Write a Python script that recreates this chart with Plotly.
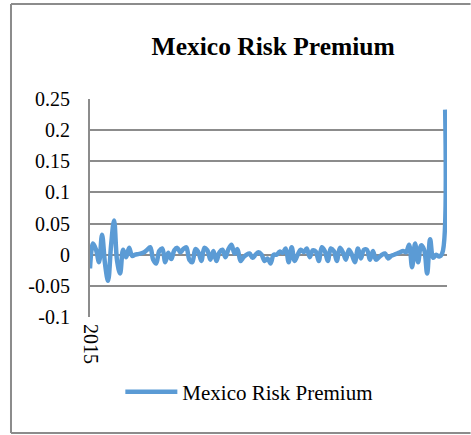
import plotly.graph_objects as go

# Monthly observations starting 2015
series_name = "Mexico Risk Premium"
risk_premium = [
    -0.022, 0.018, 0.008, -0.012, 0.032, -0.015, -0.042, 0.015, 0.055, -0.010,
    -0.030, 0.008, -0.004, 0.011, -0.002, 0.000, 0.001, 0.002, 0.004, 0.008,
    0.012, -0.008, -0.014, 0.006, 0.010, -0.012, 0.003, -0.007, 0.007, 0.011,
    0.004, 0.009, 0.012, -0.008, -0.012, 0.009, 0.004, -0.010, 0.011, 0.007,
    -0.008, 0.006, -0.010, 0.004, 0.008, -0.004, 0.009, 0.016, 0.002, 0.009,
    -0.010, -0.004, 0.000, 0.002, -0.005, 0.000, 0.004, 0.000, -0.010, -0.006,
    -0.014, 0.000, 0.000, 0.005, 0.003, 0.010, -0.012, 0.012, -0.010, 0.000,
    0.008, 0.004, 0.010, -0.004, 0.007, 0.005, -0.010, 0.012, 0.006, -0.010,
    0.010, 0.006, -0.010, 0.011, 0.004, -0.008, 0.008, 0.000, -0.012, 0.010,
    -0.006, 0.008, 0.008, -0.008, 0.006, -0.008, -0.004, 0.000, 0.002, -0.006,
    -0.002, 0.000, 0.002, 0.004, 0.006, 0.004, 0.016, -0.020, 0.018, -0.012,
    0.015, 0.008, -0.030, 0.025, -0.005, 0.000, -0.003, 0.002, 0.233,
]
periods = list(range(len(risk_premium)))
x_tick_labels = ["2015"]
y_ticks = [-0.1, -0.05, 0, 0.05, 0.1, 0.15, 0.2, 0.25]
y_tick_labels = ["-0.1", "-0.05", "0", "0.05", "0.1", "0.15", "0.2", "0.25"]

FONT = "Liberation Serif, Times New Roman, serif"
GRID = "#8c8c8c"
FRAME = dict(color="#8c8c8c", width=2)

fig = go.Figure()
fig.add_trace(go.Scatter(
    x=periods,
    y=risk_premium,
    mode="lines",
    name=series_name,
    line=dict(color="#5b9bd5", width=4.5, shape="spline", smoothing=1.0),
))

# outer chart frame: left, top and bottom edges, running to the page's right edge
frame_left, frame_right, frame_bottom, frame_top = -0.2213, 1.066, -0.532, 1.436
frame_shapes = [
    dict(type="line", xref="paper", yref="paper", x0=frame_left, x1=frame_left,
         y0=frame_bottom, y1=frame_top, line=FRAME, layer="below"),
    dict(type="line", xref="paper", yref="paper", x0=frame_left, x1=frame_right,
         y0=frame_top, y1=frame_top, line=FRAME, layer="below"),
    dict(type="line", xref="paper", yref="paper", x0=frame_left, x1=frame_right,
         y0=frame_bottom, y1=frame_bottom, line=FRAME, layer="below"),
]

fig.update_layout(
    width=471,
    height=435,
    margin=dict(l=90, r=24, t=99, b=118),
    paper_bgcolor="white",
    plot_bgcolor="white",
    font=dict(family=FONT, size=20, color="black"),
    title=dict(
        text="<b>Mexico Risk Premium</b>",
        font=dict(family=FONT, size=25.5, color="black"),
        x=0.58, xanchor="center", y=0.895, yanchor="middle",
    ),
    showlegend=True,
    legend=dict(
        orientation="h",
        x=0.085, xanchor="left",
        y=-0.345, yanchor="middle",
        font=dict(family=FONT, size=21, color="black"),
        bgcolor="rgba(0,0,0,0)",
        itemwidth=52,
    ),
    xaxis=dict(
        range=[0, 118.6],
        showgrid=False,
        zeroline=False,
        showline=False,
        tickmode="array",
        tickvals=[0],
        ticktext=x_tick_labels,
        tickangle=90,
        ticks="",
        ticklabelstandoff=6,
    ),
    yaxis=dict(
        range=[-0.1, 0.25],
        tickmode="array",
        tickvals=y_ticks,
        ticktext=y_tick_labels,
        showgrid=True,
        gridcolor=GRID,
        gridwidth=2,
        zeroline=False,
        showline=True,
        linecolor=GRID,
        linewidth=2,
        ticks="",
        ticklabelstandoff=14,
    ),
    shapes=frame_shapes,
)

fig.write_html("out.html")
